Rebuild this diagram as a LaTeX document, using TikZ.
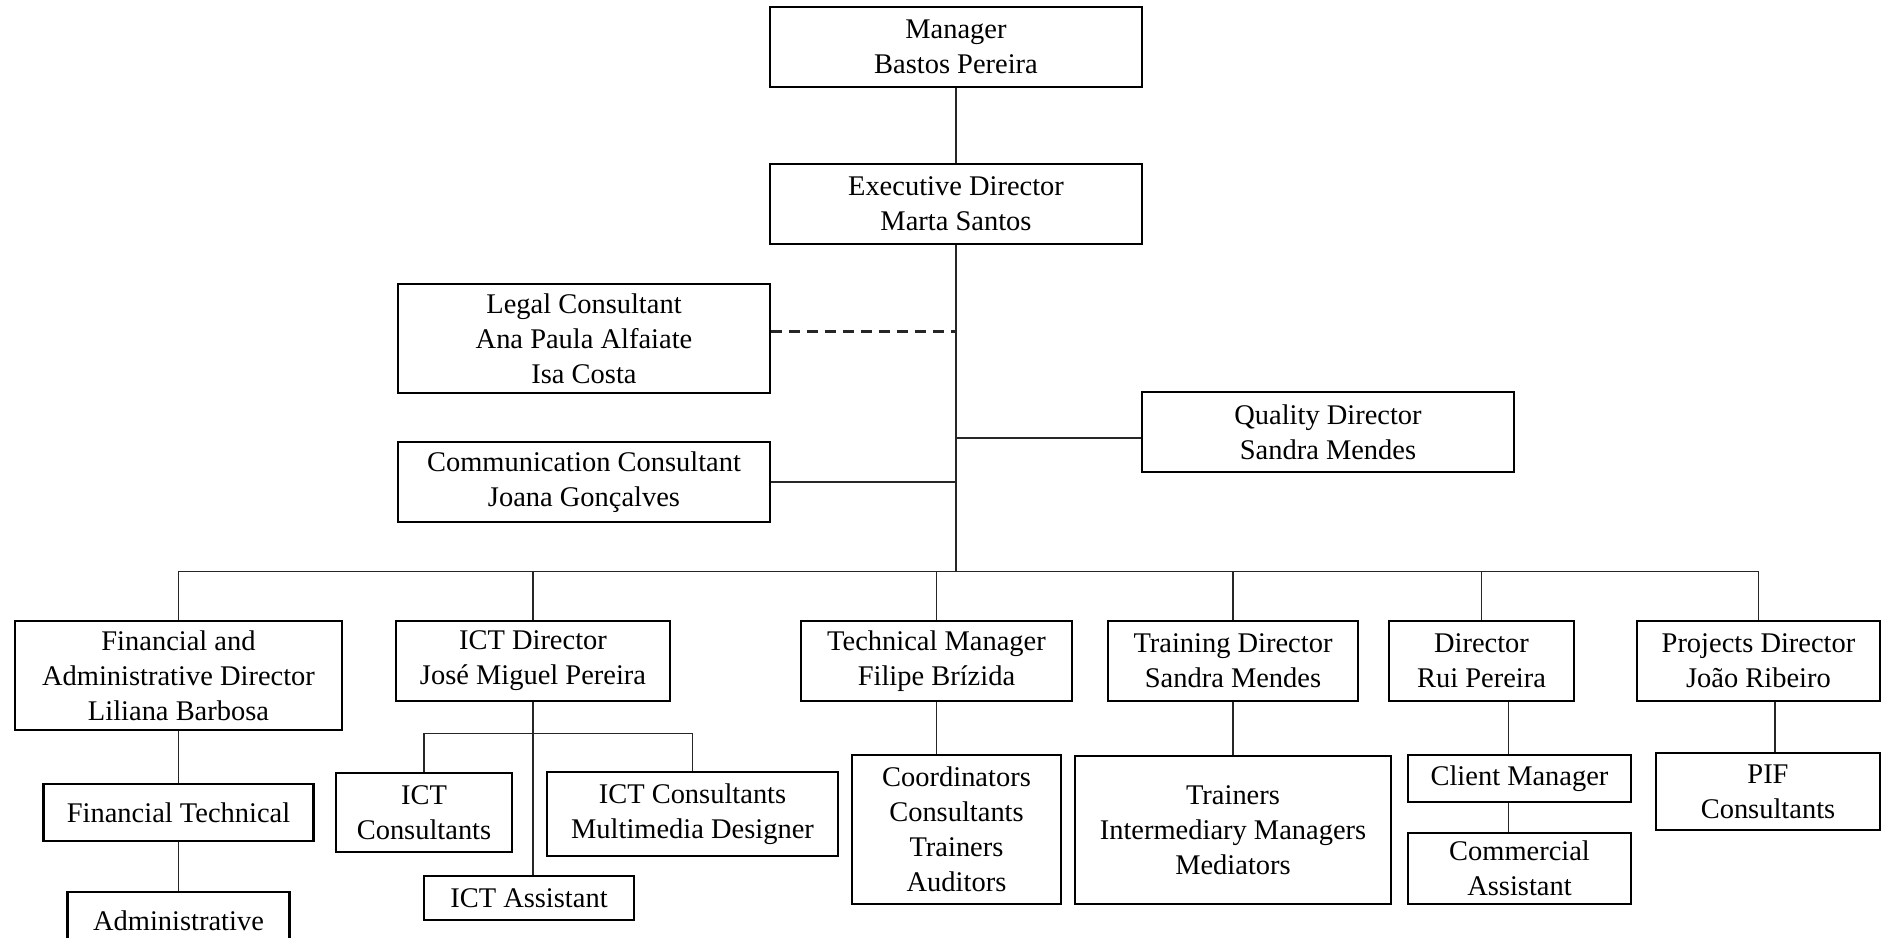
\documentclass[tikz,border=0pt]{standalone}
\usepackage{fontspec}
\setmainfont{Liberation Serif}
\usepackage{tikz}
\usetikzlibrary{positioning}
\tikzset{
    box/.style={draw, line width=0.8pt, align=center, inner sep=0pt,
        font=\fontsize{8.1}{10}\selectfont}, % every box of the chart
    link/.style={line width=0.45pt, black!85}, % plain connector
    consult/.style={link, line width=0.7pt, dash pattern=on 0.11cm off 0.07cm}, % dashed connector
}

\begin{document}
\begin{tikzpicture}[node distance=2cm, on grid]
                \useasboundingbox (0,0) rectangle (18.81,-9.37);
                % Top
                \node[box, minimum width=3.72cm, minimum height=0.8cm] (mgr) at (9.56,-0.47) {Manager\\Bastos Pereira};
                \node[box, minimum width=3.72cm, minimum height=0.8cm] (exec) [below=1.57cm of mgr] {Executive Director\\Marta Santos};
                \node[box, minimum width=3.72cm, minimum height=1.09cm] (legal) [below left=1.345cm and 3.72cm of exec] {Legal Consultant\\Ana Paula Alfaiate\\Isa Costa};
                \node[box, minimum width=3.72cm, minimum height=0.8cm] (quality) [below right=2.28cm and 3.72cm of exec] {Quality Director\\Sandra Mendes};
                \node[box, minimum width=3.72cm, minimum height=0.8cm] (comm) [below=1.435cm of legal] {Communication Consultant\\Joana Gonçalves};
                \coordinate[below=3.26cm of exec.south] (hub);

                % Directors
                \node[box, minimum width=2.71cm, minimum height=0.8cm] (tech) [below left=4.57cm and 0.195cm of exec] {Technical Manager\\Filipe Brízida};
                \node[box, minimum width=2.74cm, minimum height=0.8cm] (ict) [left=4.035cm of tech] {ICT Director\\José Miguel Pereira};
                \node[box, minimum width=3.27cm, minimum height=1.09cm] (fin) [below left=0.145cm and 3.545cm of ict] {Financial and\\Administrative Director\\Liliana Barbosa};
                \node[box, minimum width=2.5cm, minimum height=0.8cm] (train) [right=2.965cm of tech] {Training Director\\Sandra Mendes};
                \node[box, minimum width=1.85cm, minimum height=0.8cm] (rui) [right=2.485cm of train] {Director\\Rui Pereira};
                \node[box, minimum width=2.43cm, minimum height=0.8cm] (proj) [right=2.77cm of rui] {Projects Director\\João Ribeiro};

                % Teams
                \node[box, minimum width=2.7cm, minimum height=0.57cm] (fintech) [below=1.37cm of fin] {Financial Technical};
                \node[box, minimum width=2.22cm, minimum height=0.57cm] (admin) [below=1.08cm of fintech] {Administrative};
                \node[box, minimum width=1.76cm, minimum height=0.79cm] (ictcons) [below left=1.515cm and 1.09cm of ict] {ICT\\Consultants};
                \node[box, minimum width=2.91cm, minimum height=0.84cm] (ictmulti) [below right=1.53cm and 1.595cm of ict] {ICT Consultants\\Multimedia Designer};
                \node[box, minimum width=2.1cm, minimum height=0.44cm] (ictasst) [below left=2.37cm and 0.04cm of ict] {ICT Assistant};
                \coordinate[below=0.31cm of ict.south] (ictbar);
                \node[box, minimum width=2.09cm, minimum height=1.49cm] (coord) [below right=1.685cm and 0.2cm of tech] {Coordinators\\Consultants\\Trainers\\Auditors};
                \node[box, minimum width=3.16cm, minimum height=1.48cm] (trainers) [below=1.69cm of train] {Trainers\\Intermediary Managers\\Mediators};
                \node[box, minimum width=2.23cm, minimum height=0.47cm] (client) [below right=1.175cm and 0.38cm of rui] {Client Manager};
                \node[box, minimum width=2.23cm, minimum height=0.71cm] (commercial) [below=0.9cm of client] {Commercial\\Assistant};
                \node[box, minimum width=2.24cm, minimum height=0.77cm] (pif) [below right=1.305cm and 0.095cm of proj] {PIF\\Consultants};

                % Lines
                \draw[link] (mgr) -- (exec);
                \draw[link] (exec.south) -- (hub);
                \draw[consult] ([yshift=0.07cm]legal.east) -- ([yshift=0.07cm]legal.east -| hub);
                \draw[link] ([yshift=-0.06cm]quality.west) -- ([yshift=-0.06cm]quality.west -| hub);
                \draw[link] (comm.east) -- (comm.east -| hub);
                \draw[link] (fin.north |- hub) -- (proj.north |- hub);
                \foreach \d in {fin,ict,tech,train,rui,proj}
                    \draw[link] (\d.north |- hub) -- (\d.north);

                \draw[link] (fin) -- (fintech);
                \draw[link] (fintech) -- (admin);
                \draw[link] (ict.south) -- (ict.south |- ictasst.north);
                \draw[link] (ictcons.north) |- (ictbar) -| (ictmulti.north);
                \draw[link] (tech.south) -- (tech.south |- coord.north);
                \draw[link] (train.south) -- (train.south |- trainers.north);
                \draw[link] ([xshift=-0.11cm]client.north) -- ([xshift=-0.11cm]client.north |- rui.south);
                \draw[link] ([xshift=-0.11cm]client.south) -- ([xshift=-0.11cm]client.south |- commercial.north);
                \draw[link] ([xshift=0.07cm]pif.north) -- ([xshift=0.07cm]pif.north |- proj.south);
\end{tikzpicture}
\end{document}
